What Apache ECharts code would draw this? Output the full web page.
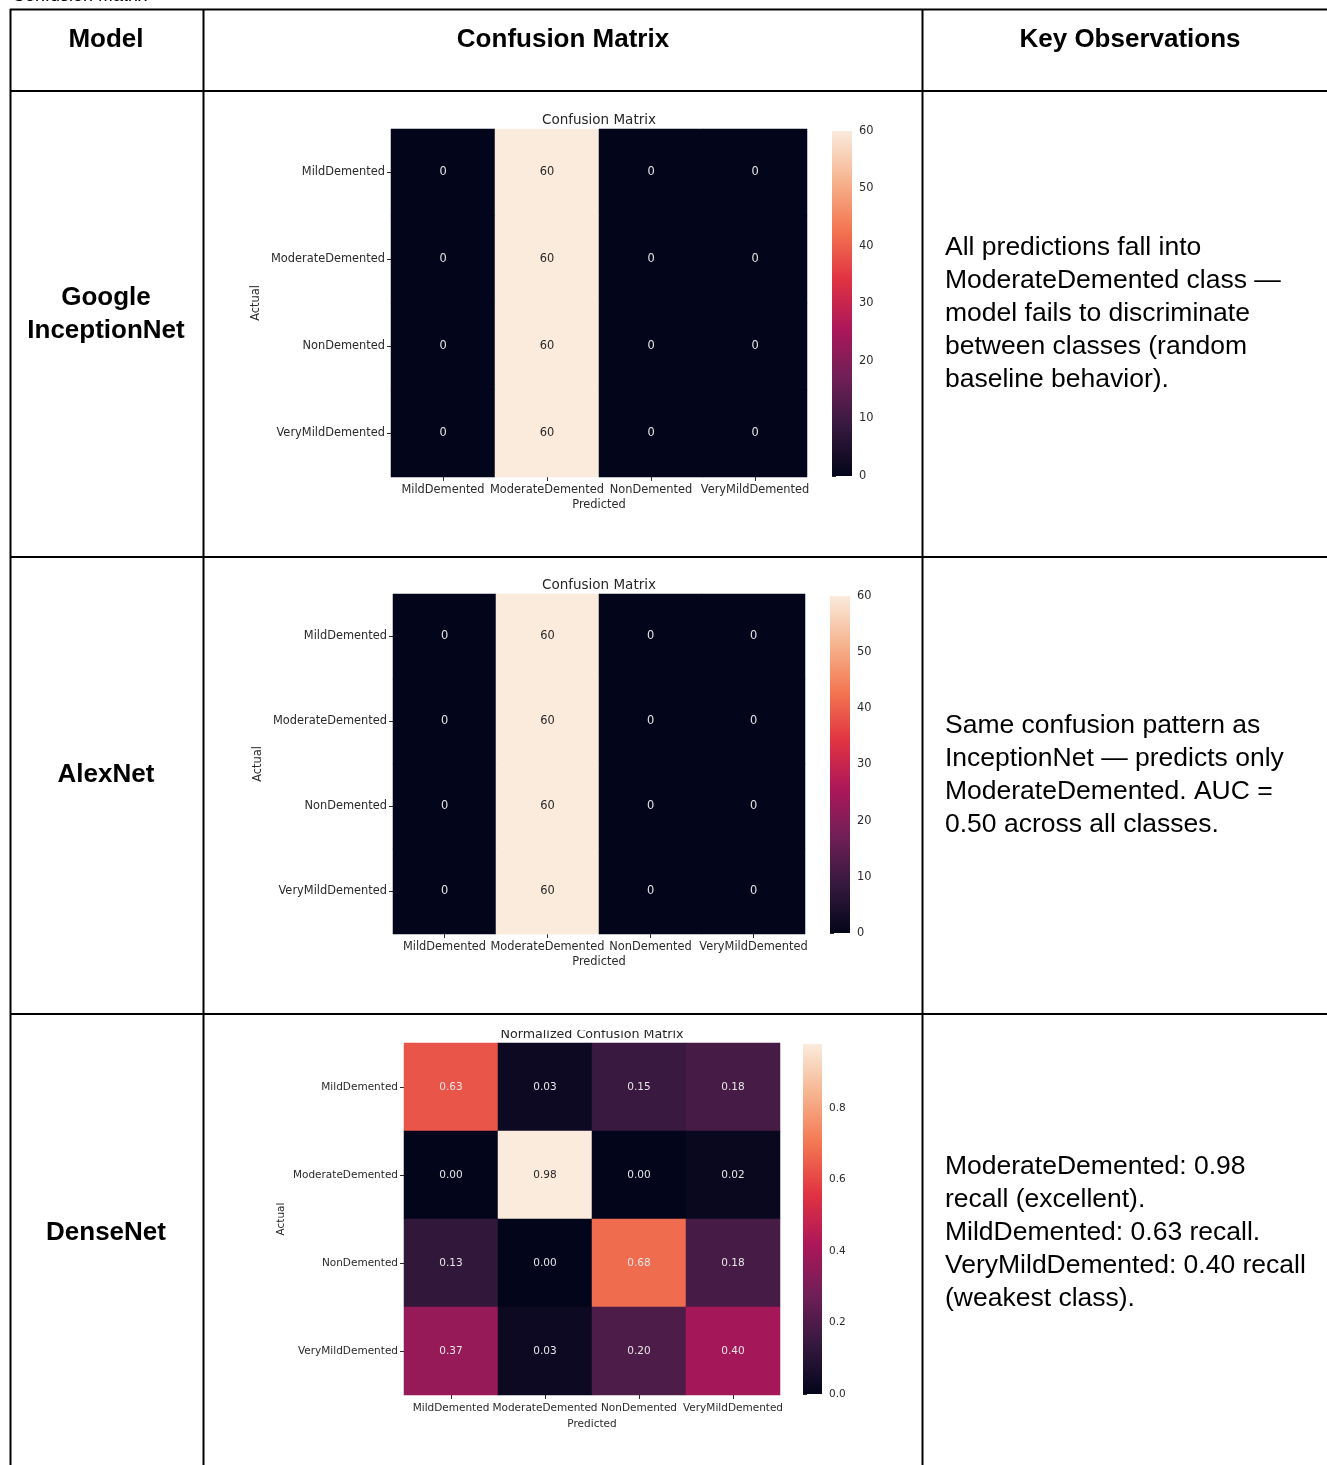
<!DOCTYPE html>
<html>
<head>
<meta charset="utf-8">
<script src="https://cdn.jsdelivr.net/npm/echarts@6/dist/echarts.min.js"></script>
<style>
  html, body { margin: 0; padding: 0; background: #ffffff; }
  #main { width: 1327px; height: 1465px; }
</style>
</head>
<body>
<div id="main"></div>
<script>
// Class labels shared by all three confusion matrices
const classes = ['MildDemented', 'ModerateDemented', 'NonDemented', 'VeryMildDemented'];

// Rows = actual class, columns = predicted class
const inceptionCounts = [
  [0, 60, 0, 0],
  [0, 60, 0, 0],
  [0, 60, 0, 0],
  [0, 60, 0, 0]
];
const alexnetCounts = [
  [0, 60, 0, 0],
  [0, 60, 0, 0],
  [0, 60, 0, 0],
  [0, 60, 0, 0]
];
const densenetNormalized = [
  [0.63, 0.03, 0.15, 0.18],
  [0.00, 0.98, 0.00, 0.02],
  [0.13, 0.00, 0.68, 0.18],
  [0.37, 0.03, 0.20, 0.40]
];

// Colorbar tick values
const countTicks = [0, 10, 20, 30, 40, 50, 60];
const normTicks = [0, 0.2, 0.4, 0.6, 0.8];

// Table text
const headers = ['Model', 'Confusion Matrix', 'Key Observations'];
const modelNames = ['Google\nInceptionNet', 'AlexNet', 'DenseNet'];
const observations = [
  ['All predictions fall into', 'ModerateDemented class \u2014', 'model fails to discriminate', 'between classes (random', 'baseline behavior).'],
  ['Same confusion pattern as', 'InceptionNet \u2014 predicts only', 'ModerateDemented. AUC =', '0.50 across all classes.'],
  ['ModerateDemented: 0.98', 'recall (excellent).', 'MildDemented: 0.63 recall.', 'VeryMildDemented: 0.40 recall', '(weakest class).']
];

// "rocket" sequential palette
const rocket = ['#03051a', '#35193e', '#701f57', '#ad1759', '#e13342', '#f37651', '#f6b48f', '#faebdd'];

const MPL_FONT = '"DejaVu Sans", sans-serif';
const DOC_FONT = '"Liberation Sans", Arial, sans-serif';
const AX_COLOR = '#2a2a2a';

function cells(matrix, max) {
  const out = [];
  matrix.forEach((row, r) => row.forEach((v, c) => {
    out.push({
      value: [c, r, v],
      label: { color: v / max > 0.8 ? '#262626' : '#e6e6e6' }
    });
  }));
  return out;
}

// Layout of the three heatmap panels and their colorbars
const panels = [
  { grid: { left: 391, top: 129, width: 416, height: 348 }, bar: { left: 832, top: 131, width: 20, height: 345 },
    data: inceptionCounts, max: 60, ticks: countTicks, digits: 0, font: 11.4, titleFont: 13.5, nameGapY: 129, nameGapX: 23,
    title: 'Confusion Matrix', titleY: 120 },
  { grid: { left: 393, top: 594, width: 412, height: 340 }, bar: { left: 830, top: 596, width: 20, height: 337 },
    data: alexnetCounts, max: 60, ticks: countTicks, digits: 0, font: 11.4, titleFont: 13.5, nameGapY: 129, nameGapX: 23,
    title: 'Confusion Matrix', titleY: 585 },
  { grid: { left: 404, top: 1043, width: 376, height: 352 }, bar: { left: 803, top: 1044, width: 19, height: 350 },
    data: densenetNormalized, max: 0.98, ticks: normTicks, digits: 2, font: 10.5, titleFont: 12.7, nameGapY: 117, nameGapX: 24,
    title: 'Normalized Confusion Matrix', titleY: 1035 }
];

const grid = [], xAxis = [], yAxis = [], series = [], visualMap = [], graphic = [];

panels.forEach((p, i) => {
  grid.push(Object.assign({ containLabel: false }, p.grid));
  xAxis.push({
    type: 'category', gridIndex: i, data: classes, position: 'bottom',
    name: 'Predicted', nameLocation: 'middle', nameGap: p.nameGapX,
    nameTextStyle: { fontFamily: MPL_FONT, fontSize: p.font, color: AX_COLOR },
    axisLine: { show: false }, splitLine: { show: false },
    axisTick: { show: true, alignWithLabel: true, length: 4, lineStyle: { color: AX_COLOR } },
    axisLabel: { fontFamily: MPL_FONT, fontSize: p.font, color: AX_COLOR, margin: 8, interval: 0 }
  });
  yAxis.push({
    type: 'category', gridIndex: i, data: classes, inverse: true, position: 'left',
    name: 'Actual', nameLocation: 'middle', nameGap: p.nameGapY, nameRotate: 90,
    nameTextStyle: { fontFamily: MPL_FONT, fontSize: p.font, color: AX_COLOR },
    axisLine: { show: false }, splitLine: { show: false },
    axisTick: { show: true, alignWithLabel: true, length: 4, lineStyle: { color: AX_COLOR } },
    axisLabel: { fontFamily: MPL_FONT, fontSize: p.font, color: AX_COLOR, margin: 6, interval: 0 }
  });
  series.push({
    type: 'heatmap', xAxisIndex: i, yAxisIndex: i,
    data: cells(p.data, p.max),
    label: {
      show: true, fontFamily: MPL_FONT, fontSize: p.font,
      formatter: (prm) => Number(prm.value[2]).toFixed(p.digits)
    },
    itemStyle: { borderWidth: 0 },
    emphasis: { disabled: true }
  });
  visualMap.push({
    type: 'continuous', seriesIndex: i, dimension: 2, min: 0, max: p.max,
    inRange: { color: rocket }, show: false
  });
});

// Colorbars: gradient strip plus an invisible grid carrying the tick axis
panels.forEach((p, i) => {
  const gi = panels.length + i;
  graphic.push({
    type: 'rect', z: 4,
    shape: { x: p.bar.left, y: p.bar.top, width: p.bar.width, height: p.bar.height },
    style: {
      fill: new echarts.graphic.LinearGradient(0, 1, 0, 0,
        rocket.map((c, k) => ({ offset: k / (rocket.length - 1), color: c })))
    }
  });
  grid.push({ left: p.bar.left, top: p.bar.top, width: p.bar.width, height: p.bar.height, containLabel: false });
  xAxis.push({ type: 'value', gridIndex: gi, show: false, min: 0, max: 1 });
  yAxis.push({
    type: 'value', gridIndex: gi, position: 'right', min: 0, max: p.max,
    axisLine: { show: false }, splitLine: { show: false },
    axisTick: { show: true, length: 4, customValues: p.ticks, lineStyle: { color: AX_COLOR } },
    axisLabel: {
      customValues: p.ticks, fontFamily: MPL_FONT, fontSize: p.font, color: AX_COLOR, margin: 7,
      formatter: (v) => p.digits ? Number(v).toFixed(1) : String(v)
    }
  });
  graphic.push({
    type: 'text', x: p.grid.left + p.grid.width / 2, y: p.titleY, z: 5,
    style: { text: p.title, font: p.titleFont + 'px ' + MPL_FONT, fill: '#262626', align: 'center', verticalAlign: 'middle' }
  });
});

// The normalized title sits partly under the cell's top edge
graphic.push({ type: 'rect', z: 8, shape: { x: 470, y: 1016, width: 260, height: 14 }, style: { fill: '#ffffff' } });

// Heading above the table, cut by the page top
graphic.push({
  type: 'text', x: 12, y: -4, z: 5,
  style: { text: 'Confusion Matrix', font: '18px ' + DOC_FONT, fill: '#000000', align: 'left', verticalAlign: 'middle' }
});

// Table rules
const lineStyle = { stroke: '#000000', lineWidth: 2 };
const hLines = [9.5, 91, 557, 1014];
const vLines = [10.5, 203.5, 922.5];
hLines.forEach((y) => graphic.push({ type: 'line', z: 10, shape: { x1: 10, y1: y, x2: 1327, y2: y }, style: lineStyle }));
vLines.forEach((x) => graphic.push({ type: 'line', z: 10, shape: { x1: x, y1: 9, x2: x, y2: 1465 }, style: lineStyle }));

// Header row
const headerX = [106, 563, 1130];
headers.forEach((h, i) => graphic.push({
  type: 'text', x: headerX[i], y: 40, z: 5,
  style: { text: h, font: 'bold 26px ' + DOC_FONT, fill: '#000000', align: 'center', verticalAlign: 'middle' }
}));

// Model names and observations
const rowCenters = [314, 775, 1233];
modelNames.forEach((m, i) => graphic.push({
  type: 'text', x: 106, y: rowCenters[i], z: 5,
  style: { text: m, font: 'bold 26px ' + DOC_FONT, fill: '#000000', align: 'center', verticalAlign: 'middle', lineHeight: 33 }
}));
observations.forEach((lines, i) => graphic.push({
  type: 'text', x: 945, y: rowCenters[i], z: 5,
  style: { text: lines.join('\n'), font: '26.5px ' + DOC_FONT, fill: '#000000', align: 'left', verticalAlign: 'middle', lineHeight: 33 }
}));

const chart = echarts.init(document.getElementById('main'), null, { renderer: 'canvas' });
chart.setOption({
  backgroundColor: '#ffffff',
  animation: false,
  grid, xAxis, yAxis, series, visualMap, graphic
});
</script>
</body>
</html>
